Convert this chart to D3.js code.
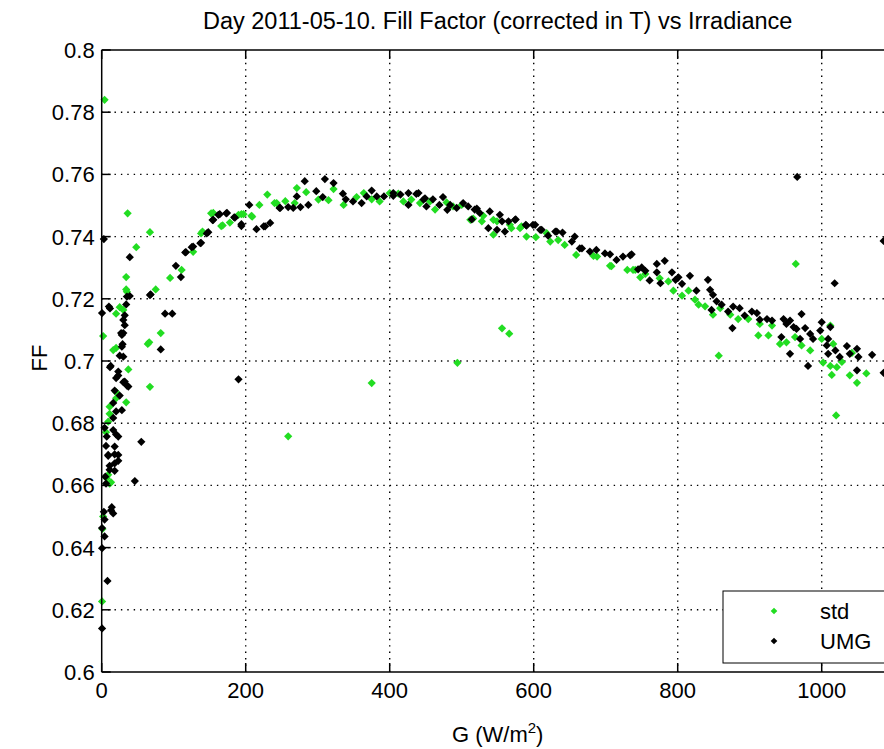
<!DOCTYPE html>
<html>
<head>
<meta charset="utf-8">
<script src="https://cdn.jsdelivr.net/npm/d3@7"></script>
<style>
  html, body { margin: 0; padding: 0; background: #fff; }
  svg { display: block; font-family: "Liberation Sans", Arial, sans-serif; }
</style>
</head>
<body>
<svg id="chart" width="884" height="749"></svg>
<script>
// Fill factor measurements, 2011-05-10: irradiance G (W/m2) and FF
const titleText = "Day 2011-05-10. Fill Factor (corrected in T) vs Irradiance";
const xTicks = [0, 200, 400, 600, 800, 1000];
const yTicks = [0.6, 0.62, 0.64, 0.66, 0.68, 0.7, 0.72, 0.74, 0.76, 0.78, 0.8];
const seriesNames = ["std", "UMG"];

const stdPoints = [
  [4,0.784],[36,0.7475],[67,0.7414],[48,0.7366],[152,0.7475],[138,0.741],[127,0.7351],[111,0.7293],
  [95,0.7267],[75,0.723],[34,0.727],[34,0.723],[25,0.7173],[20,0.7152],[2,0.708],[82,0.709],
  [64,0.7055],[20,0.7042],[37,0.6973],[67,0.6917],[20,0.690],[34,0.6867],[11,0.6853],[9,0.6805],
  [6,0.6771],[9,0.6634],[11,0.6606],[0.5,0.6227],[13,0.661],[259,0.6758],[66,0.706],[30,0.7164],
  [35,0.7223],[16,0.7035],[20,0.688],[11,0.683],[7,0.6623],[2,0.650],[1,0.646],
  [140,0.7416],[155,0.7476],[168,0.7436],[178,0.7445],[194,0.7472],[208,0.7467],[166,0.7434],[190,0.747],
  [197,0.7472],[209,0.7464],[219,0.7502],[230,0.7535],[240,0.7508],[255,0.7514],[243,0.7508],[268,0.7508],
  [271,0.7556],[284,0.7543],[301,0.7519],[315,0.7517],[322,0.7553],[336,0.7502],[354,0.7527],[364,0.754],
  [375,0.752],[386,0.7513],[400,0.754],[412,0.7538],[419,0.7513],[430,0.7519],[442,0.7508],[456,0.7513],
  [463,0.7487],[479,0.751],[488,0.7497],[500,0.7502],[516,0.7458],[530,0.7467],[544,0.7454],[544,0.7406],
  [512,0.7454],[528,0.7449],[549,0.7449],[567,0.7438],[569,0.7427],[581,0.7427],[583,0.7433],[590,0.74],
  [603,0.7398],[618,0.7411],[623,0.7384],[634,0.7389],[643,0.7373],[659,0.7341],[683,0.7338],[688,0.7336],
  [706,0.7306],[708,0.7305],[730,0.7293],[741,0.7293],[738,0.7293],[748,0.7269],[755,0.728],[775,0.7266],
  [787,0.7256],[794,0.7226],[806,0.721],[815,0.7226],[824,0.7197],[829,0.7181],[838,0.7176],[849,0.7149],
  [859,0.717],[873,0.7149],[884,0.7135],[898,0.7135],[914,0.7119],[926,0.7082],[931,0.7114],[912,0.7082],
  [942,0.7055],[951,0.706],[963,0.7077],[972,0.705],[984,0.7034],[1000,0.7071],[1012,0.7114],[1016,0.7055],
  [1002,0.6995],[1012,0.6984],[1021,0.698],[1028,0.6997],[1039,0.6954],[1042,0.7026],[1062,0.696],[1014,0.6955],
  [1049,0.693],[375,0.6929],[494,0.6994],[556,0.7105],[566,0.7088],[857,0.7017],[964,0.7312],[1020,0.6825]
];

const umgPoints = [
  [3,0.7392],[39,0.7334],[148,0.7414],[137,0.7379],[125,0.7366],[116,0.7349],[103,0.7306],[110,0.727],
  [68,0.7214],[39,0.7209],[34,0.7182],[10,0.7175],[0.5,0.7154],[88,0.7152],[98,0.7152],[32,0.7147],
  [32,0.7115],[27,0.709],[29,0.7054],[25,0.7017],[82,0.7037],[12.5,0.6984],[23,0.6966],[20,0.6945],
  [32,0.6934],[37,0.6918],[16,0.6865],[20,0.6838],[16,0.6817],[4,0.6785],[20,0.6764],[55,0.674],
  [6,0.6727],[18,0.67],[9,0.6695],[23,0.6679],[11,0.6663],[18,0.6647],[6,0.6606],[46,0.6614],
  [13,0.652],[16,0.651],[3,0.6515],[4,0.649],[0.5,0.6463],[4,0.6436],[0.5,0.6398],[8,0.6293],[0.5,0.614],
  [190,0.6941],[30,0.709],[11.5,0.698],[23,0.6953],[30,0.6932],[35,0.6921],[18,0.6905],[25,0.6889],
  [28,0.6842],[16,0.6778],[23,0.6757],[7,0.6757],[18,0.6725],[9,0.6698],[23,0.6698],[18,0.6671],
  [11,0.665],[5,0.6628],[14,0.653],[28,0.7046],[30,0.7014],[11.5,0.7169],[35,0.7207],[30,0.7132],
  [28,0.7084],[67,0.7212],
  [155,0.7454],[162,0.747],[173,0.7475],[184,0.7462],[194,0.7434],[205,0.7502],[215,0.7424],[225,0.7433],
  [234,0.7444],[247,0.7492],[259,0.7495],[117,0.735],[127,0.7368],[138,0.738],[146,0.741],[164,0.7472],
  [154,0.7453],[174,0.7476],[185,0.7461],[194,0.744],[227,0.7433],[248,0.7492],[266,0.7492],[271,0.7529],
  [276,0.7495],[282,0.7578],[287,0.7502],[298,0.7546],[310,0.7585],[307,0.7527],[322,0.7572],[335,0.7538],
  [339,0.752],[349,0.7513],[361,0.7508],[368,0.7529],[375,0.7548],[382,0.7529],[392,0.7529],[405,0.7531],
  [405,0.754],[415,0.7535],[426,0.754],[426,0.7502],[437,0.7537],[440,0.754],[447,0.7519],[449,0.7523],
  [451,0.7497],[460,0.752],[469,0.7502],[474,0.7527],[480,0.7486],[484,0.7502],[493,0.7492],[502,0.7508],
  [509,0.7497],[518,0.7487],[514,0.7455],[521,0.749],[525,0.7476],[539,0.7481],[537,0.7427],[549,0.7422],
  [553,0.747],[556,0.7449],[560,0.7416],[565,0.7449],[574,0.7454],[575,0.7455],[589,0.7438],[590,0.7435],
  [599,0.7438],[602,0.7438],[609,0.7422],[611,0.7422],[620,0.7403],[630,0.7416],[632,0.7416],[640,0.7413],
  [653,0.7384],[657,0.74],[664,0.7362],[667,0.7362],[678,0.7352],[687,0.7357],[699,0.7346],[706,0.7343],
  [715,0.7325],[724,0.7336],[734,0.734],[736,0.7343],[745,0.7295],[750,0.7301],[755,0.729],[761,0.7259],
  [771,0.7312],[771,0.7285],[776,0.725],[782,0.7322],[792,0.7285],[797,0.7261],[801,0.7269],[806,0.7248],
  [817,0.7274],[826,0.7226],[842,0.7261],[845,0.7229],[847,0.7164],[849,0.7213],[854,0.7192],[861,0.7181],
  [870,0.7159],[877,0.7175],[876,0.7106],[886,0.717],[893,0.7146],[903,0.7159],[910,0.7154],[914,0.7133],
  [924,0.7135],[931,0.713],[944,0.7077],[947,0.7135],[951,0.7119],[956,0.713],[956,0.7023],[961,0.7109],
  [965,0.7103],[970,0.7071],[972,0.7151],[977,0.7106],[981,0.6984],[984,0.7087],[988,0.7071],[998,0.7098],
  [1000,0.7125],[1007,0.705],[1009,0.7071],[1009,0.7023],[1012,0.7109],[1019,0.7034],[1025,0.7013],[1035,0.7048],
  [1039,0.7023],[1049,0.7039],[1051,0.7013],[1049,0.697],[1070,0.702],[1086,0.6962],
  [1086,0.7386],[1018,0.725],[966,0.7592]
];

const colors = { std: "#22dd22", UMG: "#000000" };

const svg = d3.select("#chart");
svg.append("rect").attr("width", 884).attr("height", 749).attr("fill", "#fff");

const plot = { left: 101.7, right: 893.7, top: 50, bottom: 672 };
const x = d3.scaleLinear().domain([0, 1100]).range([plot.left, plot.right]);
const y = d3.scaleLinear().domain([0.6, 0.8]).range([plot.bottom, plot.top]);

const fmtY = v => String(+v.toFixed(2));

// dotted grid
const grid = svg.append("g").attr("stroke", "#000").attr("stroke-width", 1.4)
  .attr("stroke-dasharray", "1.4,5").attr("fill", "none");
xTicks.filter(v => v > 0).forEach(v => {
  grid.append("line").attr("x1", x(v)).attr("x2", x(v)).attr("y1", plot.top).attr("y2", plot.bottom);
});
yTicks.filter(v => v > 0.6 && v < 0.8).forEach(v => {
  grid.append("line").attr("x1", plot.left).attr("x2", plot.right).attr("y1", y(v)).attr("y2", y(v));
});

// diamond marker
const diamond = {
  draw(ctx, size) {
    const r = Math.sqrt(size / 2);
    ctx.moveTo(0, -r); ctx.lineTo(r, 0); ctx.lineTo(0, r); ctx.lineTo(-r, 0); ctx.closePath();
  }
};
const markPath = d3.symbol().type(diamond).size(34)();

function drawSeries(points, color) {
  svg.append("g").selectAll("path").data(points).join("path")
    .attr("d", markPath)
    .attr("transform", d => `translate(${x(d[0])},${y(d[1])})`)
    .attr("fill", color);
}
drawSeries(stdPoints, colors.std);
drawSeries(umgPoints, colors.UMG);

// axes box and inward ticks
const axes = svg.append("g").attr("stroke", "#000").attr("stroke-width", 1.5).attr("fill", "none");
axes.append("line").attr("x1", plot.left).attr("x2", plot.right).attr("y1", plot.top).attr("y2", plot.top);
axes.append("line").attr("x1", plot.left).attr("x2", plot.right).attr("y1", plot.bottom).attr("y2", plot.bottom);
axes.append("line").attr("x1", plot.left).attr("x2", plot.left).attr("y1", plot.top).attr("y2", plot.bottom);
axes.append("line").attr("x1", plot.right).attr("x2", plot.right).attr("y1", plot.top).attr("y2", plot.bottom);
const tickLen = 9;
xTicks.forEach(v => {
  axes.append("line").attr("x1", x(v)).attr("x2", x(v)).attr("y1", plot.bottom).attr("y2", plot.bottom - tickLen);
  axes.append("line").attr("x1", x(v)).attr("x2", x(v)).attr("y1", plot.top).attr("y2", plot.top + tickLen);
});
yTicks.forEach(v => {
  axes.append("line").attr("x1", plot.left).attr("x2", plot.left + tickLen).attr("y1", y(v)).attr("y2", y(v));
});

// tick labels
const fontSize = 22;
svg.append("g").selectAll("text").data(xTicks).join("text")
  .attr("x", d => x(d)).attr("y", plot.bottom + 26)
  .attr("text-anchor", "middle").attr("font-size", fontSize).attr("fill", "#000")
  .text(d => d);
svg.append("g").selectAll("text").data(yTicks).join("text")
  .attr("x", plot.left - 7).attr("y", d => y(d)).attr("dy", "0.36em")
  .attr("text-anchor", "end").attr("font-size", fontSize).attr("fill", "#000")
  .text(fmtY);

// title and axis labels
svg.append("text").attr("x", (plot.left + plot.right) / 2).attr("y", 29)
  .attr("text-anchor", "middle").attr("font-size", 23.5).attr("fill", "#000").text(titleText);

const xl = svg.append("text").attr("x", (plot.left + plot.right) / 2).attr("y", 742)
  .attr("text-anchor", "middle").attr("font-size", fontSize).attr("fill", "#000");
xl.append("tspan").text("G (W/m");
xl.append("tspan").attr("font-size", 15).attr("dy", -9).text("2");
xl.append("tspan").attr("dy", 9).text(")");

svg.append("text").attr("transform", "translate(47,358) rotate(-90)")
  .attr("text-anchor", "middle").attr("font-size", fontSize).attr("fill", "#000").text("FF");

// legend
const lg = svg.append("g");
lg.append("rect").attr("x", 723).attr("y", 591).attr("width", 168).attr("height", 72)
  .attr("fill", "#fff").attr("stroke", "#000").attr("stroke-width", 1);
const legendMark = d3.symbol().type(diamond).size(22)();
seriesNames.forEach((name, i) => {
  const ly = 611 + i * 30;
  lg.append("path").attr("d", legendMark).attr("transform", `translate(774,${ly})`).attr("fill", colors[name]);
  lg.append("text").attr("x", 820).attr("y", ly).attr("dy", "0.36em")
    .attr("font-size", fontSize).attr("fill", "#000").text(name);
});
</script>
</body>
</html>
